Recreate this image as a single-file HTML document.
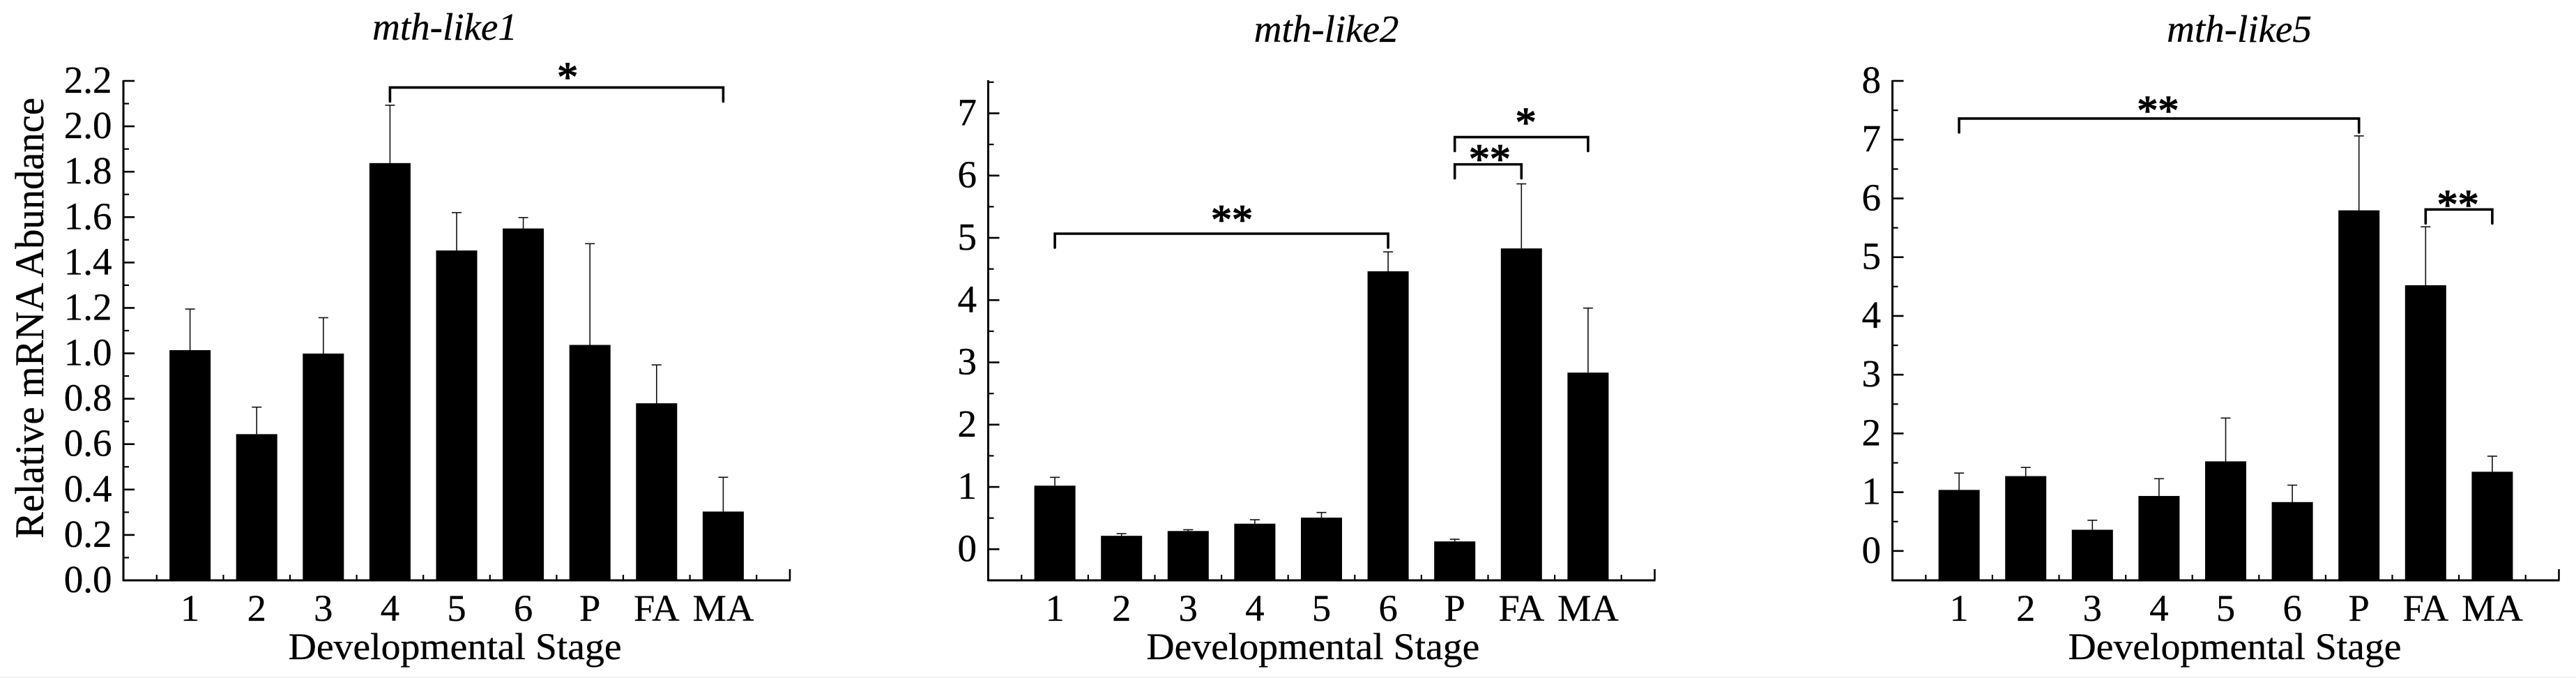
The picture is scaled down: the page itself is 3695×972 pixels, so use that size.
<!DOCTYPE html>
<html lang="en">
<head>
<meta charset="utf-8">
<title>mth-like mRNA abundance by developmental stage</title>
<style>
html,body{margin:0;padding:0;background:#fff;width:3695px;height:972px;overflow:hidden}
svg{display:block}
text{font-family:"Liberation Serif","Times New Roman",serif;fill:#000;stroke:#000;stroke-width:0.35px}
</style>
</head>
<body>
<svg id="figure" xmlns="http://www.w3.org/2000/svg" width="3695" height="972" viewBox="0 0 3695 972">
  <rect x="0" y="0" width="3695" height="972" fill="#ffffff"/>
  <rect x="0" y="970" width="3695" height="2" fill="#f0f0f0"/>
</svg>
<script>
const categories = ['1', '2', '3', '4', '5', '6', 'P', 'FA', 'MA'];

const like1Values = [1.014, 0.644, 0.999, 1.838, 1.453, 1.550, 1.037, 0.780, 0.303];
const like1Errors = [0.181, 0.119, 0.158, 0.255, 0.167, 0.048, 0.446, 0.169, 0.151];
const like1TickLabels = ['0.0', '0.2', '0.4', '0.6', '0.8', '1.0', '1.2', '1.4', '1.6', '1.8', '2.0', '2.2'];
const like1MinorTicks = [0.1, 0.3, 0.5, 0.7, 0.9, 1.1, 1.3, 1.5, 1.7, 1.9, 2.1];
const like1BracketFrom = ['4'];
const like1BracketTo = ['MA'];
const like1BracketLevel = [2.171];
const like1BracketStars = ['*'];
const like1StarPosition = [6.664];
const like1StarLevel = [2.242];

const like2Values = [1.02, 0.215, 0.292, 0.41, 0.507, 4.463, 0.125, 4.83, 2.836];
const like2Errors = [0.134, 0.035, 0.021, 0.063, 0.083, 0.312, 0.035, 1.037, 1.036];
const like2TickLabels = ['0', '1', '2', '3', '4', '5', '6', '7'];
const like2MinorTicks = [0.5, 1.5, 2.5, 3.5, 4.5, 5.5, 6.5, 7.5];
const like2BracketFrom = ['1', 'P', 'P'];
const like2BracketTo = ['6', 'MA', 'FA'];
const like2BracketLevel = [5.067, 6.618, 6.18];
const like2BracketStars = ['**', '*', '**'];
const like2StarPosition = [3.656, 8.066, 7.525];
const like2StarLevel = [5.38, 6.944, 6.353];

const like5Values = [1.039, 1.274, 0.361, 0.936, 1.525, 0.832, 5.797, 4.523, 1.348];
const like5Errors = [0.287, 0.148, 0.162, 0.294, 0.737, 0.288, 1.267, 0.994, 0.265];
const like5TickLabels = ['0', '1', '2', '3', '4', '5', '6', '7', '8'];
const like5MinorTicks = [-0.5, 0.5, 1.5, 2.5, 3.5, 4.5, 5.5, 6.5, 7.5];
const like5BracketFrom = ['1', 'FA'];
const like5BracketTo = ['P', 'MA'];
const like5BracketLevel = [7.36, 5.812];
const like5BracketStars = ['**', '**'];
const like5StarPosition = [3.984, 8.484];
const like5StarLevel = [7.588, 5.989];

const SVG_NS = 'http://www.w3.org/2000/svg';
const figure = document.getElementById('figure');

function svgEl(tag, parent, attrs) {
  const el = document.createElementNS(SVG_NS, tag);
  for (const key in attrs) el.setAttribute(key, attrs[key]);
  parent.appendChild(el);
  return el;
}

function drawChart(cfg) {
  const top = 116;
  const bottom = 832;
  const slot = (cfg.right - cfg.left) / 10;
  const xAt = function (pos) { return cfg.left + pos * slot; };
  const xCat = function (cat) { return xAt(categories.indexOf(cat) + 1); };
  const yAt = function (v) { return bottom - (v - cfg.domain[0]) / (cfg.domain[1] - cfg.domain[0]) * (bottom - top); };

  const chart = svgEl('g', figure, {});
  
  

  const title = svgEl('text', chart, { x: cfg.titleX, y: cfg.titleY, 'text-anchor': 'middle', 'font-size': 55, 'font-style': 'italic' });
  title.textContent = cfg.title;
  
  

  cfg.values.forEach(function (value, i) {
    const cx = xCat(categories[i]);
    const errTop = yAt(value + cfg.errors[i]);
    const barTop = yAt(value);

    const stem = svgEl('line', chart, { x1: cx, x2: cx, y1: barTop, y2: errTop, stroke: '#111', 'stroke-width': 1.6 });
    
    

    const cap = svgEl('line', chart, { x1: cx - 7, x2: cx + 7, y1: errTop, y2: errTop, stroke: '#111', 'stroke-width': 1.6 });
    
    
  });

  const yAxis = svgEl('line', chart, { x1: cfg.left, x2: cfg.left, y1: top - 1, y2: bottom + 1, stroke: '#000', 'stroke-width': 3 });
  
  

  const xAxis = svgEl('line', chart, { x1: cfg.left - 1, x2: cfg.right + 1, y1: bottom, y2: bottom, stroke: '#000', 'stroke-width': 3 });
  
  

  cfg.tickLabels.forEach(function (label) {
    const y = yAt(Number(label));

    const tick = svgEl('line', chart, { x1: cfg.left, x2: cfg.left + 16, y1: y, y2: y, stroke: '#000', 'stroke-width': 2.6 });
    
    

    const text = svgEl('text', chart, { x: cfg.left - 16.5, y: y + 17, 'text-anchor': 'end', 'font-size': 55 });
    text.textContent = label;
    
    
  });

  cfg.minorTicks.forEach(function (v) {
    const y = yAt(v);
    const tick = svgEl('line', chart, { x1: cfg.left, x2: cfg.left + 8, y1: y, y2: y, stroke: '#000', 'stroke-width': 2.2 });
    
    
  });

  for (let k = 0; k <= 10; k++) {
    const major = svgEl('line', chart, { x1: xAt(k), x2: xAt(k), y1: bottom, y2: bottom - 16, stroke: '#000', 'stroke-width': 2.6 });
    
    
    if (k < 10) {
      const minor = svgEl('line', chart, { x1: xAt(k + 0.5), x2: xAt(k + 0.5), y1: bottom, y2: bottom - 8, stroke: '#000', 'stroke-width': 2.2 });
      
      
    }
  }

  cfg.values.forEach(function (value, i) {
    const cx = xCat(categories[i]);
    const barTop = yAt(value);
    const bar = svgEl('rect', chart, { x: cx - 29.5, y: barTop, width: 59, height: bottom - barTop, fill: '#000' });
    
    

    const label = svgEl('text', chart, { x: cx, y: 890, 'text-anchor': 'middle', 'font-size': 54.5 });
    label.textContent = categories[i];
    
    
  });

  cfg.bracketFrom.forEach(function (fromCat, i) {
    const x1 = xCat(fromCat);
    const x2 = xCat(cfg.bracketTo[i]);
    const y = yAt(cfg.bracketLevel[i]);
    const bracket = svgEl('path', chart, {
      d: 'M' + x1 + ' ' + (y + 20) + 'V' + y + 'H' + x2 + 'V' + (y + 20),
      fill: 'none', stroke: '#000', 'stroke-width': 3.6, 'stroke-linecap': 'round'
    });
    
    

    const stars = svgEl('text', chart, { x: xAt(cfg.starPosition[i]), y: yAt(cfg.starLevel[i]) + 28, 'text-anchor': 'middle', 'font-size': 60, style: 'stroke-width:1.5px' });
    stars.textContent = cfg.bracketStars[i];
    
    
  });

  const xTitle = svgEl('text', chart, { x: cfg.xTitleX, y: 945, 'text-anchor': 'middle', 'font-size': 54.5, textLength: 478, lengthAdjust: 'spacingAndGlyphs' });
  xTitle.textContent = 'Developmental Stage';
  
  

  if (cfg.showYTitle) {
    const yTitle = svgEl('text', chart, { x: 0, y: 0, 'text-anchor': 'middle', 'font-size': 58, textLength: 632, lengthAdjust: 'spacingAndGlyphs', transform: 'translate(62 456) rotate(-90)' });
    yTitle.textContent = 'Relative mRNA Abundance';
    
    
  }
}

drawChart({
  title: 'mth-like1', left: 177, right: 1133, domain: [0, 2.2],
  titleX: 638, titleY: 57, xTitleX: 652.6, showYTitle: true,
  values: like1Values, errors: like1Errors, tickLabels: like1TickLabels, minorTicks: like1MinorTicks,
  bracketFrom: like1BracketFrom, bracketTo: like1BracketTo, bracketLevel: like1BracketLevel,
  bracketStars: like1BracketStars, starPosition: like1StarPosition, starLevel: like1StarLevel
});

drawChart({
  title: 'mth-like2', left: 1417.5, right: 2373.5, domain: [-0.5, 7.52],
  titleX: 1902.6, titleY: 60, xTitleX: 1883.4, showYTitle: false,
  values: like2Values, errors: like2Errors, tickLabels: like2TickLabels, minorTicks: like2MinorTicks,
  bracketFrom: like2BracketFrom, bracketTo: like2BracketTo, bracketLevel: like2BracketLevel,
  bracketStars: like2BracketStars, starPosition: like2StarPosition, starLevel: like2StarLevel
});

drawChart({
  title: 'mth-like5', left: 2714.5, right: 3670.5, domain: [-0.5, 8],
  titleX: 3212, titleY: 60, xTitleX: 3205.5, showYTitle: false,
  values: like5Values, errors: like5Errors, tickLabels: like5TickLabels, minorTicks: like5MinorTicks,
  bracketFrom: like5BracketFrom, bracketTo: like5BracketTo, bracketLevel: like5BracketLevel,
  bracketStars: like5BracketStars, starPosition: like5StarPosition, starLevel: like5StarLevel
});
</script>
</body>
</html>
